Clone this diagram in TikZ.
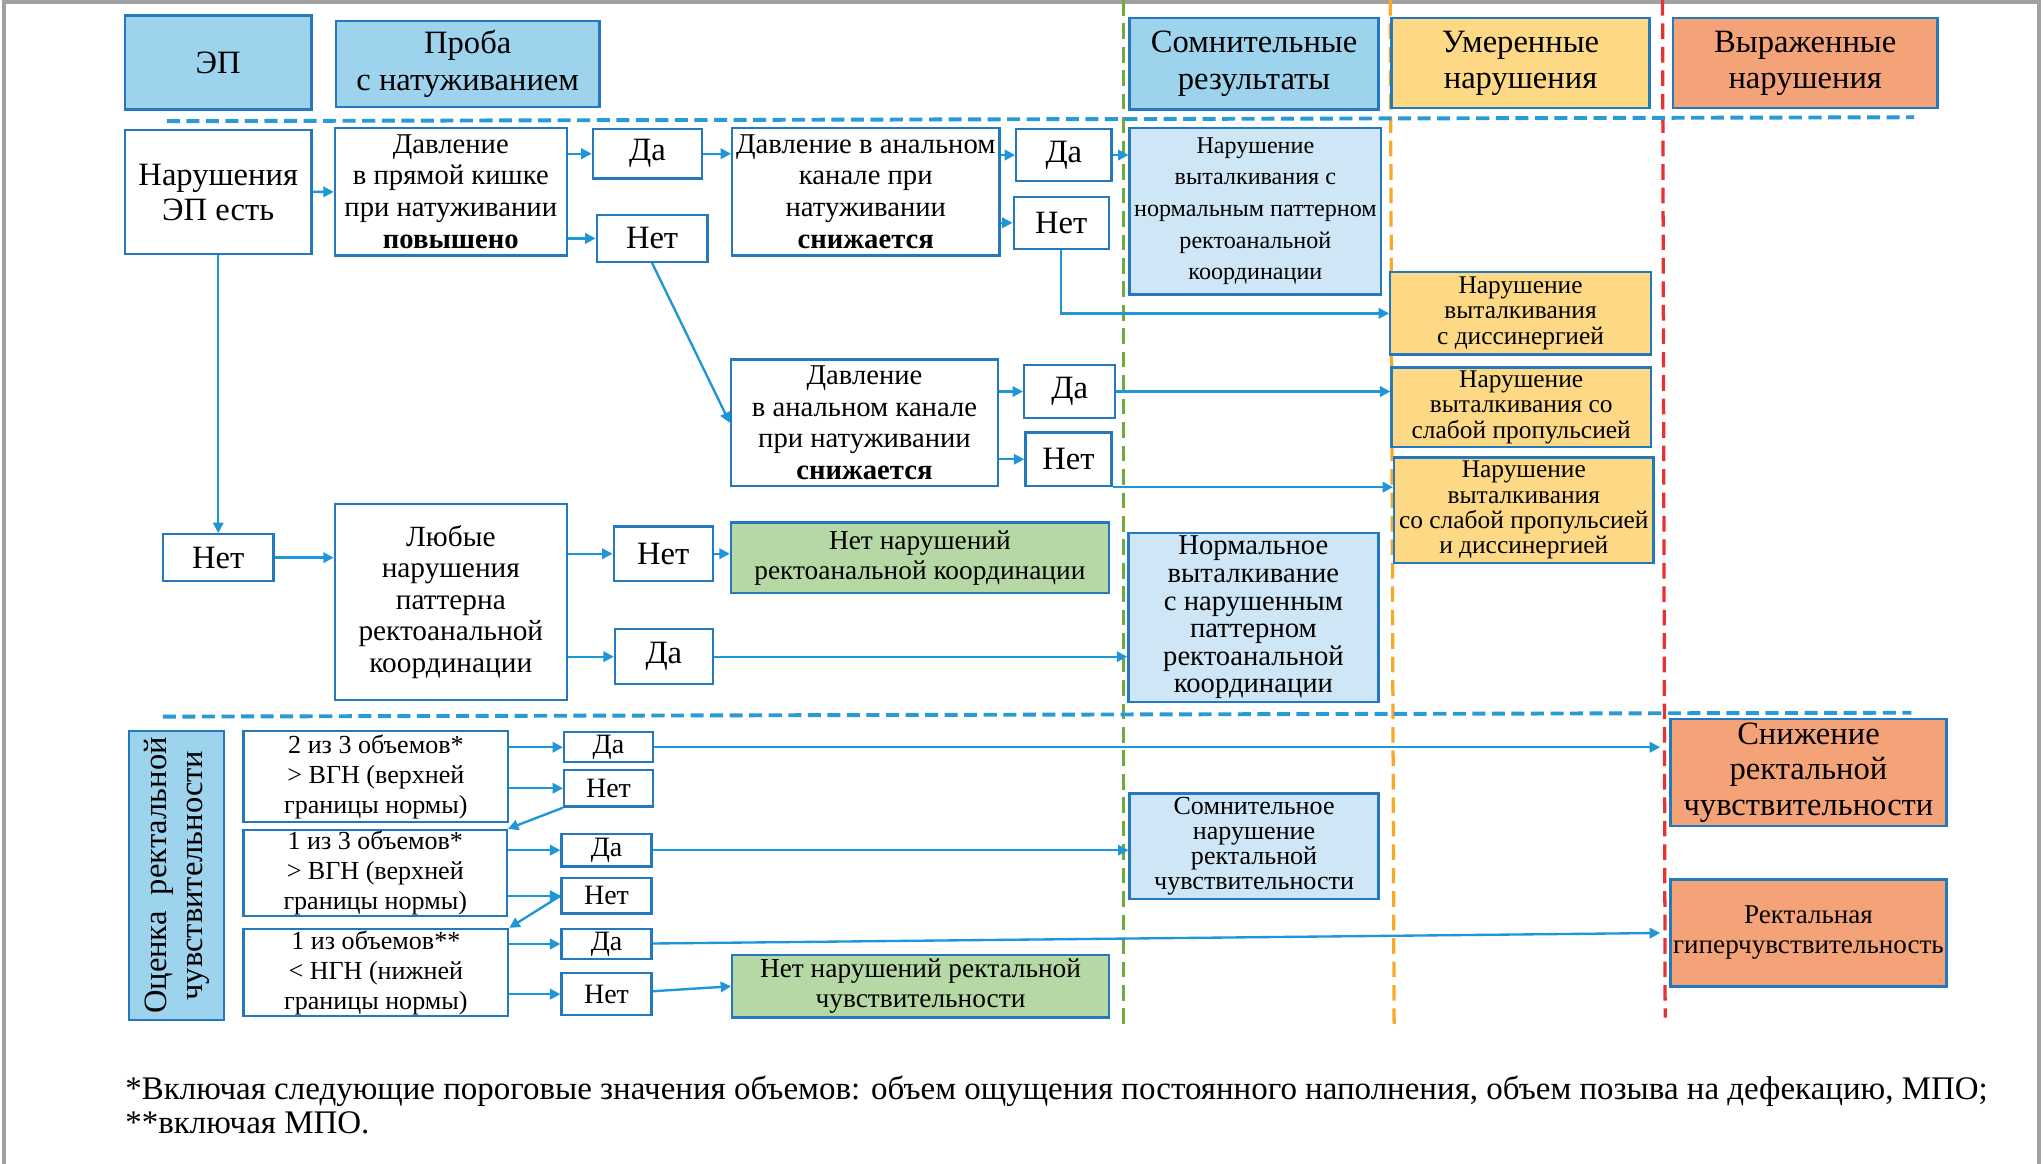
\documentclass[tikz,border=0pt]{standalone}
\usepackage{fontspec}
\setmainfont{Liberation Serif}
\usetikzlibrary{arrows.meta}
\definecolor{boxblue}{RGB}{35,120,190}
\definecolor{hdrfill}{RGB}{158,211,238}
\definecolor{resfill}{RGB}{206,230,246}
\definecolor{yelfill}{RGB}{253,217,134}
\definecolor{orfill}{RGB}{244,162,120}
\definecolor{grfill}{RGB}{182,216,164}
\definecolor{arrblue}{RGB}{30,150,215}
\definecolor{sepblue}{RGB}{40,155,215}
\definecolor{vgreen}{RGB}{110,170,60}
\definecolor{vorange}{RGB}{245,170,40}
\definecolor{vred}{RGB}{230,50,50}
\definecolor{framegray}{RGB}{160,160,160}
\newcommand\myfs[2]{\fontsize{#1}{#2}\selectfont}
\tikzset{
  corners/.style args={#1/#2/#3/#4}{at={({(#1+#3)/2},{(#2+#4)/2})}, minimum width={(#3-#1)*1pt}, minimum height={(#4-#2)*1pt}},
  bx/.style={draw=boxblue, line width=1.8pt, inner sep=0pt, align=center, text=black},
  hdr/.style={bx, fill=hdrfill, font=\myfs{25}{28}},
  wb/.style={bx, fill=white},
  yn/.style={bx, fill=white, font=\myfs{25}{27}},
  ynsmall/.style={bx, fill=white, font=\myfs{21.5}{23}},
  rb/.style={bx, fill=resfill},
  yb/.style={bx, fill=yelfill, font=\myfs{19.5}{19.5}},
  gb/.style={bx, fill=grfill},
  ob/.style={bx, fill=orfill},
  arr/.style={draw=arrblue, line width=1.8pt, -{Triangle[length=8pt,width=8pt]}},
  sepline/.style={draw=sepblue, line width=3pt, dash pattern=on 10pt off 5pt},
  vline/.style={line width=2.5pt, dash pattern=on 12pt off 6pt},
}
\begin{document}
\begin{tikzpicture}[x=1pt,y=-1pt]
\useasboundingbox (0,0) rectangle (1568,893);
\fill[white] (0,0) rectangle (1568,893);
\draw[framegray, line width=3pt] (3,893) -- (3,1.5) -- (1565,1.5) -- (1565,893);
% column separators
\draw[vline, draw=vgreen] (862,0) -- (862,790);
\draw[vline, draw=vorange] (1067,0) -- (1070,790);
\draw[vline, draw=vred] (1276,0) -- (1278,781);
% row separators
\draw[sepline] (128,93) -- (1469,90);
\draw[sepline] (125,550) -- (1467,547);
% headers
\node[hdr, corners=96/12/239/84] (ep) {ЭП};
\node[hdr, corners=258/16/460/82] (proba) {Проба\\с натуживанием};
\node[hdr, corners=867/14/1058/84] (somn) {Сомнительные\\результаты};
\node[hdr, fill=yelfill, corners=1068/14/1266/83] (umer) {Умеренные\\нарушения};
\node[hdr, fill=orfill, corners=1284/14/1487/83] (vyr) {Выраженные\\нарушения};
% upper block
\node[wb, font=\myfs{25}{27}, corners=96/100/239/195] (nar) {Нарушения\\ЭП есть};
\node[wb, font=\myfs{22}{24.3}, corners=257/98/435/196] (dav) {Давление\\в прямой кишке\\при натуживании\\\textbf{повышено}};
\node[yn, corners=455/99/539/137] (da1) {Да};
\node[yn, corners=458/165/543/201] (net1) {Нет};
\node[wb, font=\myfs{22}{24.3}, corners=562/98/767/196] (an1) {Давление в анальном\\канале при\\натуживании\\\textbf{снижается}};
\node[yn, corners=780/99/853/139] (da2) {Да};
\node[yn, corners=778/151/851/191] (net2) {Нет};
\node[rb, font=\myfs{18.5}{24.3}, corners=867/98/1060/226] (res1) {Нарушение\\выталкивания с\\нормальным паттерном\\ректоанальной\\координации};
\node[yb, corners=1067/209/1267/272] (yel1) {Нарушение\\выталкивания\\с диссинергией};
\node[wb, font=\myfs{22}{24.3}, corners=561/276/766/373] (an2) {Давление\\в анальном канале\\при натуживании\\\textbf{снижается}};
\node[yn, corners=786/280/856/321] (da3) {Да};
\node[yn, corners=787/332/853/373] (net3) {Нет};
\node[yb, corners=1068/282/1267/343] (yel2) {Нарушение\\выталкивания со\\слабой пропульсией};
\node[yb, corners=1070/351/1269/432] (yel3) {Нарушение\\выталкивания\\со слабой пропульсией\\и диссинергией};
\node[yn, corners=125/410/210/446] (net4) {Нет};
\node[wb, font=\myfs{22.5}{24.3}, corners=257/387/435/537] (lub) {Любые\\нарушения\\паттерна\\ректоанальной\\координации};
\node[yn, corners=471/404/547/446] (net5) {Нет};
\node[yn, corners=472/483/547/525] (da5) {Да};
\node[gb, font=\myfs{21}{23}, corners=561/401/851/455] (gr1) {Нет нарушений\\ректоанальной координации};
\node[rb, font=\myfs{22}{21.2}, corners=866/409/1058/539] (norm) {Нормальное\\выталкивание\\с нарушенным\\паттерном\\ректоанальной\\координации};
% lower block
\node[hdr, corners=99/561/172/783] (ocen) {};
\node[rotate=90, align=center, inner sep=0pt, font=\myfs{25}{27.5}] (ocenT) at (ocen.center) {Оценка\ \ ректальной\\чувствительности};
\node[wb, font=\myfs{20}{23}, corners=187/561/390/631] (b1) {2 из 3 объемов*\\> ВГН (верхней\\границы нормы)};
\node[wb, font=\myfs{20}{23}, corners=187/637/389/703] (b2) {1 из 3 объемов*\\> ВГН (верхней\\границы нормы)};
\node[wb, font=\myfs{20}{23}, corners=187/713/390/780] (b3) {1 из объемов**\\< НГН (нижней\\границы нормы)};
\node[ynsmall, corners=433/562/501/585] (da6) {Да};
\node[ynsmall, corners=433/591/501/619] (net6) {Нет};
\node[ynsmall, corners=431/640/500/665] (da7) {Да};
\node[ynsmall, corners=431/674/500/701] (net7) {Нет};
\node[ynsmall, corners=431/713/500/736] (da8) {Да};
\node[ynsmall, corners=431/747/500/779] (net8) {Нет};
\node[gb, font=\myfs{21}{23}, corners=562/733/851/781] (gr2) {Нет нарушений ректальной\\чувствительности};
\node[rb, font=\myfs{20}{19.2}, corners=867/609/1058/690] (somn2) {Сомнительное\\нарушение\\ректальной\\чувствительности};
\node[ob, font=\myfs{25}{27.4}, corners=1282/552/1494/634] (snizh) {Снижение\\ректальной\\чувствительности};
\node[ob, font=\myfs{20.8}{23}, corners=1282/675/1494/757] (giper) {Ректальная\\гиперчувствительность};
% footnotes
\node[anchor=base west, inner sep=0pt, font=\myfs{25.3}{26}] (fn1) at (96,844) {*Включая следующие пороговые значения объемов: объем ощущения постоянного наполнения, объем позыва на дефекацию, МПО;};
\node[anchor=base west, inner sep=0pt, font=\myfs{25.3}{26}] (fn2) at (96,870) {**включая МПО.};
% connectors upper
\draw[arr] (nar) -- (dav);
\draw[arr] (dav.east |- da1) -- (da1);
\draw[arr] (dav.east |- net1) -- (net1);
\draw[arr] (da1) -- (an1.west |- da1);
\draw[arr] (an1.east |- da2) -- (da2);
\draw[arr] (an1.east |- net2) -- (net2);
\draw[arr] (da2) -- (res1.west |- da2);
\draw[arr] (net2.south) |- (yel1.west);
\draw[arr] (net1.south) -- (an2.west);
\draw[arr] (an2.east |- da3) -- (da3);
\draw[arr] (an2.east |- net3) -- (net3);
\draw[arr] (da3) -- (yel2.west |- da3);
\draw[arr] (net3.south east) -- (yel3.west |- net3.south east);
\draw[arr] (nar) -- (net4);
\draw[arr] (net4) -- (lub.west |- net4);
\draw[arr] (lub.east |- net5) -- (net5);
\draw[arr] (lub.east |- da5) -- (da5);
\draw[arr] (net5) -- (gr1.west |- net5);
\draw[arr] (da5) -- (norm.west |- da5);
% connectors lower
\draw[arr] (b1.east |- da6) -- (da6);
\draw[arr] (b1.east |- net6) -- (net6);
\draw[arr] (net6.south west) -- (b2.north east);
\draw[arr] (b2.east |- da7) -- (da7);
\draw[arr] (b2.east |- net7) -- (net7);
\draw[arr] (net7.west) -- (b3.north east);
\draw[arr] (b3.east |- da8) -- (da8);
\draw[arr] (b3.east |- net8) -- (net8);
\draw[arr, shorten >=7pt] (da6) -- (snizh.west |- da6);
\draw[arr] (da7) -- (somn2.west |- da7);
\draw[arr, shorten >=7pt] (da8) -- (giper.west);
\draw[arr] (net8) -- (gr2.west);
\end{tikzpicture}
\end{document}
